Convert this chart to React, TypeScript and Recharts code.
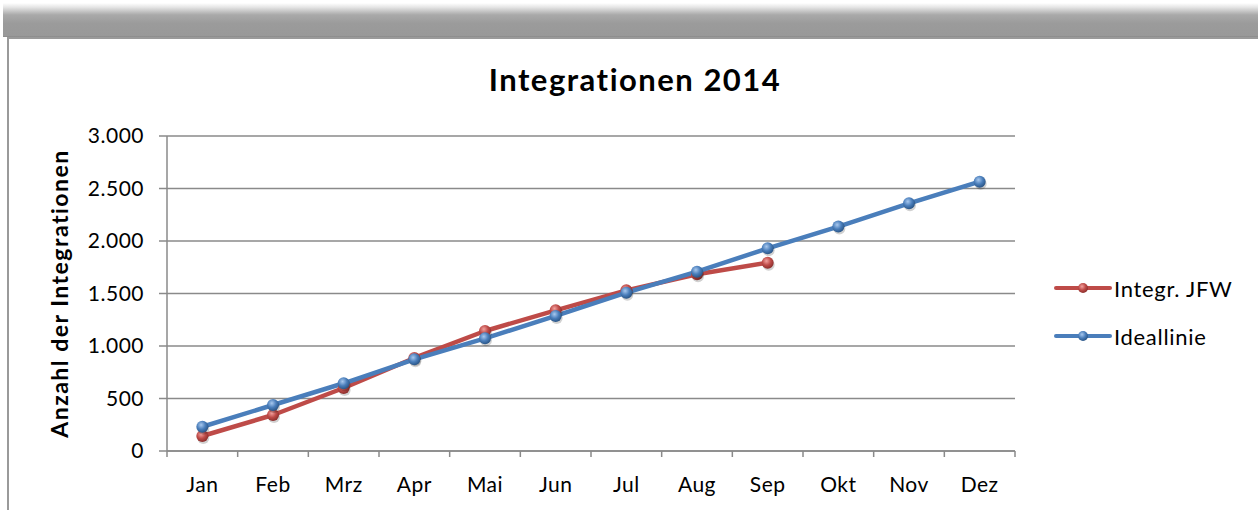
import { LineChart, Line, XAxis, YAxis, CartesianGrid, Label } from 'recharts'

const months = ['Jan', 'Feb', 'Mrz', 'Apr', 'Mai', 'Jun', 'Jul', 'Aug', 'Sep', 'Okt', 'Nov', 'Dez']
const integrJfw = [143, 343, 600, 886, 1143, 1340, 1530, 1683, 1793]
const ideallinie = [231, 438, 645, 873, 1073, 1286, 1508, 1708, 1930, 2137, 2359, 2565]
const yTicks = [0, 500, 1000, 1500, 2000, 2500, 3000]
const monthBounds = [0, 1, 2, 3, 4, 5, 6, 7, 8, 9, 10, 11, 12]

const series = [
  { key: 'jfw', name: 'Integr. JFW', color: '#BE4B48', dark: '#8c2f2d', light: '#f2a19e' },
  { key: 'ideal', name: 'Ideallinie', color: '#4A7EBB', dark: '#2b5687', light: '#a8c8ee' },
]

const data = months.map((m, i) => ({
  x: i + 0.5,
  month: m,
  jfw: i < integrJfw.length ? integrJfw[i] : null,
  ideal: ideallinie[i],
}))

const font = 'Lato, "Open Sans", sans-serif'

const fmt = (v: number) => (v >= 1000 ? `${Math.floor(v / 1000)}.${String(v % 1000).padStart(3, '0')}` : String(v))

function Ball(props: any) {
  const { cx, cy, id } = props
  if (cx == null || cy == null || props.value == null) return null
  return (
    <g>
      <circle cx={cx + 1} cy={cy + 2} r={6} fill="rgba(0,0,0,0.18)" />
      <circle cx={cx} cy={cy} r={6} fill={`url(#ball-${id})`} stroke="none" />
    </g>
  )
}

function LegendBox() {
  return (
    <div style={{ position: 'absolute', left: 1054, top: 264, fontFamily: font, fontSize: 22, letterSpacing: 0.7, color: '#000' }}>
      {series.map((s) => (
        <div key={s.key} style={{ display: 'flex', alignItems: 'center', height: 48 }}>
          <svg width={58} height={16}>
            <defs>
              <radialGradient id={`lg-${s.key}`} cx="0.4" cy="0.35" r="0.65">
                <stop offset="0%" stopColor={s.light} />
                <stop offset="55%" stopColor={s.color} />
                <stop offset="100%" stopColor={s.dark} />
              </radialGradient>
            </defs>
            <line x1={2} y1={8} x2={56} y2={8} stroke={s.color} strokeWidth={4} strokeLinecap="round" />
            <circle cx={29} cy={8} r={5} fill={`url(#lg-${s.key})`} />
          </svg>
          <span style={{ marginLeft: 2 }}>{s.name}</span>
        </div>
      ))}
    </div>
  )
}

const tickStyle = { fill: '#000', fontSize: 21, fontFamily: font, letterSpacing: 0.5 }

export default function App() {
  return (
    <div style={{ position: 'relative', width: 1258, height: 510, background: '#fff', overflow: 'hidden' }}>
      <style>{'body{margin:0}'}</style>
      <div
        style={{
          position: 'absolute',
          left: 3,
          top: 3,
          width: 1255,
          height: 34,
          background: 'linear-gradient(#ffffff 0%, #e6e6e6 12%, #a9a9a9 35%, #9b9b9b 60%, #999 96%, #888 100%)',
        }}
      />
      <div
        style={{
          position: 'absolute',
          left: 7,
          top: 37,
          width: 1251,
          height: 473,
          background: '#fff',
          borderLeft: '2px solid #9a9a9a',
          borderTop: '2px solid #9a9a9a',
          boxSizing: 'border-box',
        }}
      />
      <div
        style={{
          position: 'absolute',
          left: 0,
          top: 60,
          width: 1270,
          textAlign: 'center',
          fontFamily: font,
          fontWeight: 700,
          fontSize: 31,
          letterSpacing: 1.5,
          color: '#000',
        }}
      >
        Integrationen 2014
      </div>
      <div style={{ position: 'absolute', left: 0, top: 0 }}>
        <LineChart
          width={1258}
          height={510}
          data={data}
          margin={{ top: 136, right: 243, bottom: 0, left: 37 }}
        >
          <defs>
            {series.map((s) => (
              <radialGradient key={s.key} id={`ball-${s.key}`} cx="0.4" cy="0.35" r="0.65">
                <stop offset="0%" stopColor={s.light} />
                <stop offset="55%" stopColor={s.color} />
                <stop offset="100%" stopColor={s.dark} />
              </radialGradient>
            ))}
          </defs>
          <CartesianGrid horizontal vertical={false} stroke="#8a8a8a" strokeWidth={1.5} xAxisId={1} />
          <XAxis
            xAxisId={0}
            type="number"
            dataKey="x"
            domain={[0, 12]}
            ticks={monthBounds}
            tick={() => <g />}
            height={1}
            stroke="#8a8a8a"
            strokeWidth={1.5}
            tickSize={6}
            interval={0}
          />
          <XAxis
            xAxisId={1}
            type="number"
            dataKey="x"
            domain={[0, 12]}
            ticks={data.map((d) => d.x)}
            tickFormatter={(v: number) => months[Math.floor(v)]}
            axisLine={false}
            tickLine={false}
            height={58}
            tickMargin={19}
            tick={tickStyle}
            interval={0}
          />
          <YAxis
            type="number"
            domain={[0, 3000]}
            ticks={yTicks}
            tickFormatter={fmt}
            width={130}
            stroke="#8a8a8a"
            strokeWidth={1.5}
            tickSize={8}
            tickMargin={15}
            tick={tickStyle}
            interval={0}
          >
            <Label
              value="Anzahl der Integrationen"
              angle={-90}
              position="center"
              dx={-42}
              style={{ fontSize: 23, fontWeight: 700, fontFamily: font, fill: '#000', letterSpacing: 1.5 }}
            />
          </YAxis>
          {series.map((s) => (
            <Line
              key={s.key}
              xAxisId={1}
              dataKey={s.key}
              name={s.name}
              stroke={s.color}
              strokeWidth={4.5}
              strokeLinejoin="round"
              dot={(p: any) => <Ball key={`${s.key}-${p.index}`} {...p} id={s.key} />}
              activeDot={false}
              connectNulls={false}
              isAnimationActive={false}
            />
          ))}
        </LineChart>
      </div>
      <LegendBox />
    </div>
  )
}
